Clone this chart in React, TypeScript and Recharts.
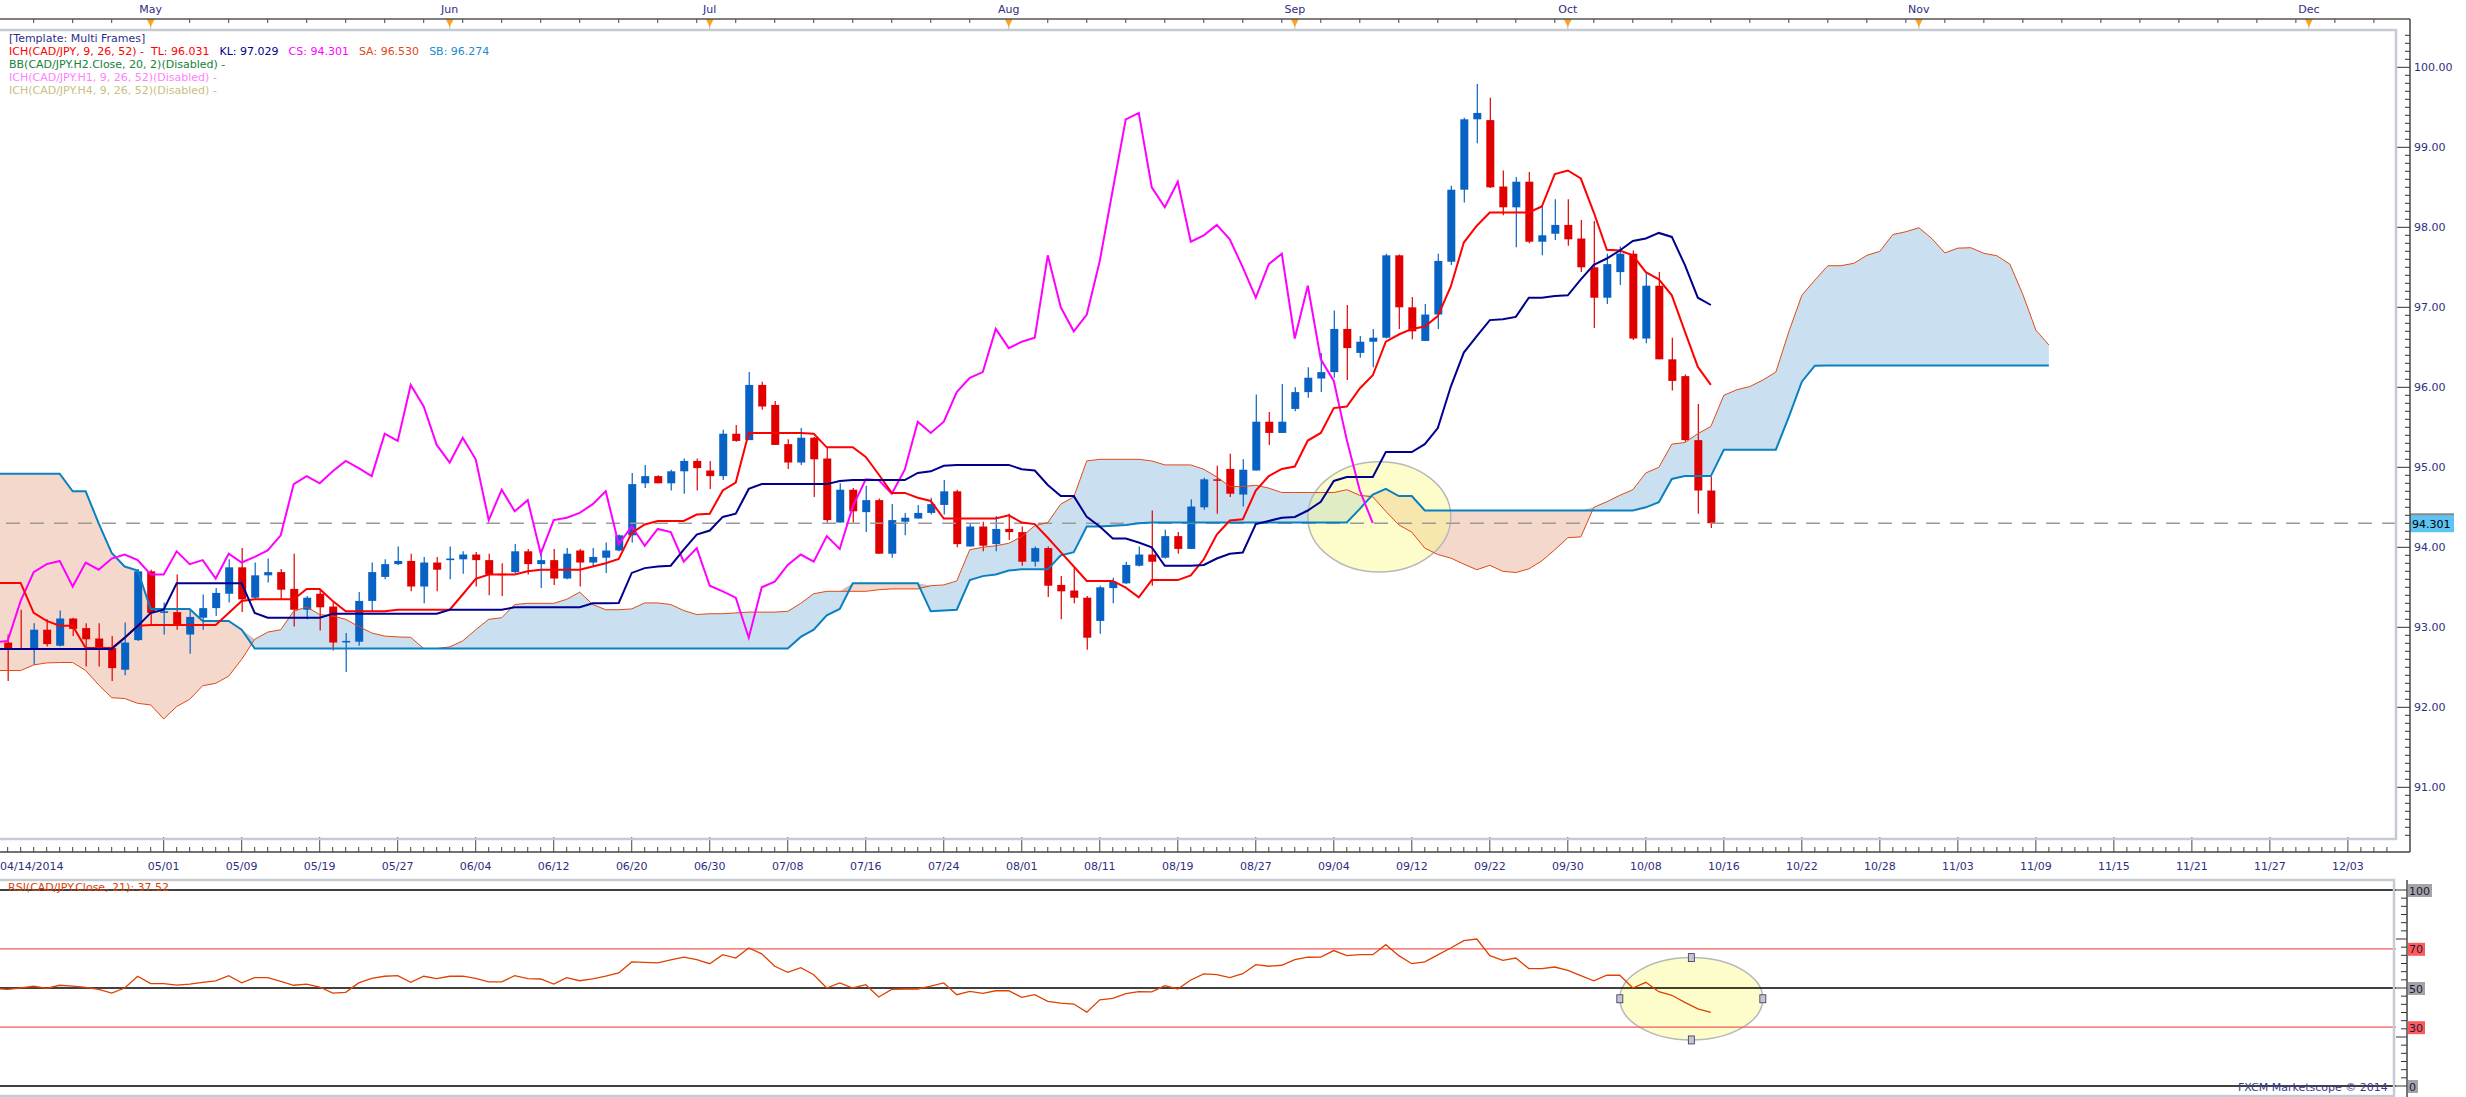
import React from 'react';
import { ComposedChart, Bar, Area, Line, XAxis, YAxis, ReferenceLine, ReferenceArea } from 'recharts';

// bar 0 = 04/14/2014, one bar per trading day; candles start at bar 1
const FIRST_BAR = 1;
const CHIKOU_SHIFT = 26;
const LAST_CLOSE = 94.301;

const opens = [
  92.81, 92.74, 92.72, 92.97, 92.77, 93.11, 92.99, 92.86, 92.74, 92.47,
  92.84, 93.70, 93.18, 93.19, 92.91, 93.12, 93.24, 93.42, 93.75, 93.37,
  93.65, 93.69, 93.48, 93.22, 93.42, 93.26, 92.82, 92.82, 93.33, 93.63,
  93.79, 93.83, 93.51, 93.81, 93.84, 93.85, 93.91, 93.84, 93.67, 93.69,
  93.95, 93.79, 93.84, 93.61, 93.96, 93.81, 93.87, 93.96, 94.15, 94.80,
  94.89, 94.80, 94.95, 95.08, 94.96, 94.89, 95.42, 95.34, 96.03, 95.78,
  95.29, 95.06, 95.37, 95.11, 94.31, 94.72, 94.44, 94.59, 93.92, 94.32,
  94.36, 94.43, 94.53, 94.70, 94.01, 94.26, 94.04, 94.23, 94.19, 93.82,
  93.99, 93.53, 93.46, 93.37, 93.08, 93.49, 93.55, 93.77, 93.91, 93.87,
  94.14, 93.98, 94.50, 94.85, 94.98, 94.66, 94.96, 95.57, 95.43, 95.73,
  95.94, 96.11, 96.19, 96.73, 96.43, 96.57, 96.62, 97.65, 97.00, 96.58,
  96.91, 97.57, 98.47, 99.35, 99.34, 98.51, 98.25, 98.57, 97.82, 97.92,
  98.03, 97.86, 97.50, 97.12, 97.44, 97.67, 96.61, 97.27, 96.35, 96.14,
  95.34, 94.71,
];
const highs = [
  92.91, 93.22, 93.05, 93.10, 93.21, 93.12, 93.05, 93.05, 92.89, 93.06,
  93.73, 93.72, 93.31, 93.66, 93.22, 93.41, 93.49, 93.85, 93.99, 93.81,
  93.86, 93.73, 93.92, 93.39, 93.48, 93.31, 92.93, 93.44, 93.81, 93.85,
  94.01, 93.92, 93.88, 93.88, 94.01, 93.95, 93.94, 93.92, 93.80, 94.04,
  93.98, 93.98, 93.98, 93.99, 93.98, 93.99, 94.06, 94.16, 94.93, 95.03,
  94.90, 94.97, 95.11, 95.11, 95.08, 95.47, 95.53, 96.19, 96.07, 95.83,
  95.35, 95.49, 95.38, 95.25, 94.80, 94.74, 94.77, 94.61, 94.54, 94.43,
  94.53, 94.62, 94.84, 94.72, 94.29, 94.32, 94.39, 94.42, 94.26, 94.01,
  94.01, 93.64, 93.74, 93.39, 93.52, 93.62, 93.82, 94.01, 94.46, 94.22,
  94.19, 94.60, 94.87, 95.02, 95.17, 95.10, 95.91, 95.69, 96.04, 96.00,
  96.25, 96.43, 96.96, 97.03, 96.64, 96.73, 97.67, 97.66, 97.13, 97.04,
  97.67, 98.52, 99.37, 99.79, 99.62, 98.71, 98.63, 98.69, 98.27, 98.35,
  98.35, 98.09, 98.08, 97.67, 97.76, 97.71, 97.44, 97.44, 96.62, 96.16,
  95.79, 94.88,
];
const lows = [
  92.33, 92.72, 92.53, 92.76, 92.76, 92.89, 92.51, 92.51, 92.33, 92.40,
  92.83, 93.02, 92.91, 92.97, 92.67, 92.97, 93.14, 93.31, 93.19, 93.35,
  93.56, 93.35, 93.01, 93.10, 92.96, 92.71, 92.44, 92.77, 93.20, 93.60,
  93.78, 93.45, 93.30, 93.45, 93.60, 93.67, 93.51, 93.40, 93.39, 93.68,
  93.66, 93.49, 93.53, 93.60, 93.51, 93.76, 93.68, 93.95, 94.06, 94.74,
  94.80, 94.71, 94.67, 94.71, 94.73, 94.84, 95.32, 95.34, 95.72, 95.28,
  94.98, 95.03, 94.63, 94.31, 94.31, 94.31, 94.19, 93.92, 93.87, 94.15,
  94.36, 94.41, 94.41, 94.00, 94.01, 93.95, 93.95, 94.09, 93.77, 93.76,
  93.38, 93.10, 93.30, 92.72, 92.92, 93.30, 93.54, 93.76, 93.52, 93.86,
  93.92, 93.98, 94.47, 94.42, 94.63, 94.51, 94.96, 95.28, 95.43, 95.70,
  95.87, 95.94, 96.12, 96.09, 96.37, 96.25, 96.61, 96.73, 96.60, 96.58,
  96.73, 97.53, 98.31, 99.05, 98.49, 98.15, 97.75, 97.80, 97.65, 97.84,
  97.77, 97.44, 96.74, 97.04, 97.28, 96.59, 96.55, 96.35, 95.96, 95.32,
  94.42, 94.24,
];
const closes = [
  92.74, 92.72, 92.97, 92.79, 93.11, 92.98, 92.85, 92.74, 92.49, 92.81,
  93.70, 93.18, 93.20, 93.03, 93.13, 93.24, 93.43, 93.75, 93.35, 93.65,
  93.69, 93.47, 93.22, 93.37, 93.25, 92.81, 92.83, 93.33, 93.69, 93.79,
  93.83, 93.51, 93.81, 93.72, 93.86, 93.91, 93.84, 93.66, 93.66, 93.95,
  93.79, 93.84, 93.61, 93.92, 93.81, 93.88, 93.96, 94.15, 94.79, 94.89,
  94.80, 94.95, 95.08, 94.99, 94.89, 95.42, 95.33, 96.03, 95.76, 95.28,
  95.06, 95.37, 95.10, 94.34, 94.72, 94.45, 94.59, 93.92, 94.34, 94.37,
  94.43, 94.54, 94.70, 94.04, 94.26, 94.02, 94.23, 94.19, 93.82, 93.99,
  93.52, 93.45, 93.37, 92.87, 93.50, 93.57, 93.78, 93.91, 93.82, 94.14,
  93.98, 94.51, 94.85, 94.84, 94.67, 94.97, 95.57, 95.43, 95.57, 95.94,
  96.12, 96.19, 96.73, 96.49, 96.57, 96.62, 97.65, 97.00, 96.70, 96.91,
  97.58, 98.47, 99.35, 99.43, 98.50, 98.25, 98.57, 97.82, 97.90, 98.03,
  97.85, 97.50, 97.12, 97.54, 97.67, 96.61, 97.27, 96.35, 96.08, 95.34,
  94.71, 94.301,
];

// Ichimoku lines, bar 0 onwards
const tenkan = [
  93.555, 93.555, 93.555, 93.18, 93.08, 93.02, 93.02, 92.74, 92.74, 92.74,
  92.87, 93.02, 93.03, 93.03, 93.03, 93.03, 93.03, 93.03, 93.18, 93.33,
  93.35, 93.35, 93.35, 93.35, 93.48, 93.48, 93.33, 93.20, 93.20, 93.20,
  93.20, 93.22, 93.22, 93.22, 93.22, 93.22, 93.41, 93.605, 93.66, 93.66,
  93.66, 93.70, 93.72, 93.72, 93.72, 93.72, 93.76, 93.80, 93.855, 94.18,
  94.285, 94.33, 94.33, 94.33, 94.41, 94.42, 94.71, 94.81, 95.43, 95.43,
  95.43, 95.43, 95.43, 95.42, 95.25, 95.25, 95.25, 95.13, 94.91, 94.68,
  94.68, 94.62, 94.58, 94.36, 94.36, 94.36, 94.36, 94.36, 94.40, 94.31,
  94.29, 94.12, 93.94, 93.76, 93.58, 93.58, 93.58, 93.495, 93.375, 93.59,
  93.59, 93.59, 93.65, 93.85, 94.16, 94.335, 94.35, 94.71, 94.89, 94.98,
  95.01, 95.335, 95.43, 95.74, 95.76, 95.985, 96.15, 96.57, 96.66, 96.73,
  96.76, 96.89, 97.26, 97.81, 98.02, 98.185, 98.185, 98.185, 98.185, 98.26,
  98.665, 98.71, 98.61, 98.185, 97.72, 97.71, 97.65, 97.44, 97.35, 97.15,
  96.70, 96.255, 96.031,
];
const kijun = [
  92.73, 92.73, 92.73, 92.73, 92.73, 92.73, 92.73, 92.73, 92.73, 92.73,
  92.87, 93.015, 93.18, 93.22, 93.55, 93.55, 93.55, 93.55, 93.55, 93.55,
  93.18, 93.12, 93.12, 93.12, 93.12, 93.12, 93.17, 93.17, 93.17, 93.17,
  93.17, 93.17, 93.17, 93.17, 93.17, 93.22, 93.22, 93.22, 93.22, 93.22,
  93.25, 93.25, 93.25, 93.25, 93.25, 93.25, 93.30, 93.30, 93.305, 93.68,
  93.74, 93.76, 93.77, 93.97, 94.16, 94.21, 94.38, 94.42, 94.73, 94.79,
  94.79, 94.79, 94.79, 94.79, 94.79, 94.83, 94.84, 94.84, 94.84, 94.84,
  94.84, 94.93, 94.95, 95.02, 95.03, 95.03, 95.03, 95.03, 95.03, 94.975,
  94.96, 94.78, 94.64, 94.64, 94.38, 94.26, 94.11, 94.11, 94.06, 94.00,
  93.77, 93.77, 93.77, 93.78, 93.86, 93.92, 93.935, 94.29, 94.33, 94.37,
  94.38, 94.46, 94.57, 94.83, 94.88, 94.88, 94.88, 95.19, 95.19, 95.19,
  95.29, 95.49, 96.01, 96.435, 96.64, 96.84, 96.85, 96.88, 97.12, 97.12,
  97.14, 97.15, 97.35, 97.53, 97.61, 97.71, 97.83, 97.86, 97.93, 97.88,
  97.53, 97.12, 97.029,
];
const spanA = [
  92.46, 92.46, 92.46, 92.53, 92.555, 92.56, 92.56, 92.46, 92.28, 92.12,
  92.11, 92.05, 92.03, 91.855, 92.01, 92.10, 92.27, 92.30, 92.39, 92.60,
  92.85, 92.94, 92.97, 93.20, 93.255, 93.16, 93.14, 93.10, 93.01, 92.93,
  92.89, 92.88, 92.875, 92.735, 92.735, 92.755, 92.83, 92.97, 93.10, 93.12,
  93.285, 93.30, 93.30, 93.30, 93.35, 93.44, 93.285, 93.22, 93.22, 93.23,
  93.305, 93.305, 93.285, 93.21, 93.16, 93.17, 93.17, 93.18, 93.19, 93.19,
  93.19, 93.20, 93.30, 93.42, 93.45, 93.45, 93.45, 93.45, 93.47, 93.48,
  93.48, 93.48, 93.52, 93.53, 93.58, 93.97, 94.00, 94.02, 94.05, 94.135,
  94.27, 94.31, 94.54, 94.63, 95.08, 95.10, 95.10, 95.10, 95.10, 95.08,
  95.03, 95.03, 95.03, 94.975, 94.88, 94.76, 94.76, 94.775, 94.74, 94.685,
  94.685, 94.685, 94.685, 94.685, 94.72, 94.65, 94.63, 94.45, 94.28, 94.19,
  93.99, 93.91, 93.865, 93.79, 93.72, 93.775, 93.70, 93.685, 93.73, 93.83,
  93.97, 94.12, 94.13, 94.50, 94.57, 94.65, 94.72, 94.93, 95.00, 95.29,
  95.31, 95.42, 95.51, 95.90, 95.97, 96.01, 96.09, 96.19, 96.695, 97.15,
  97.34, 97.52, 97.52, 97.55, 97.65, 97.70, 97.91, 97.945, 97.995, 97.86,
  97.68, 97.74, 97.745, 97.675, 97.645, 97.54, 97.16, 96.715, 96.53,
];
const spanB = [
  94.92, 94.92, 94.92, 94.92, 94.92, 94.92, 94.70, 94.70, 94.30, 93.93,
  93.76, 93.71, 93.23, 93.23, 93.23, 93.23, 93.08, 93.08, 93.08, 92.97,
  92.735, 92.735, 92.735, 92.735, 92.735, 92.735, 92.735, 92.735, 92.735, 92.735,
  92.735, 92.735, 92.735, 92.735, 92.735, 92.735, 92.735, 92.735, 92.735, 92.735,
  92.735, 92.735, 92.735, 92.735, 92.735, 92.735, 92.735, 92.735, 92.735, 92.735,
  92.735, 92.735, 92.735, 92.735, 92.735, 92.735, 92.735, 92.735, 92.735, 92.735,
  92.735, 92.735, 92.88, 92.97, 93.15, 93.23, 93.55, 93.55, 93.55, 93.55,
  93.55, 93.55, 93.20, 93.21, 93.22, 93.59, 93.64, 93.66, 93.71, 93.725,
  93.725, 93.725, 93.90, 93.94, 94.26, 94.26, 94.27, 94.28, 94.30, 94.31,
  94.31, 94.31, 94.31, 94.31, 94.31, 94.31, 94.31, 94.31, 94.31, 94.31,
  94.31, 94.31, 94.31, 94.31, 94.31, 94.48, 94.66, 94.73, 94.64, 94.64,
  94.46, 94.46, 94.46, 94.46, 94.46, 94.46, 94.46, 94.46, 94.46, 94.46,
  94.46, 94.46, 94.46, 94.46, 94.46, 94.46, 94.46, 94.50, 94.565, 94.855,
  94.89, 94.89, 94.89, 95.22, 95.22, 95.22, 95.22, 95.22, 95.63, 96.07,
  96.27, 96.274, 96.274, 96.274, 96.274, 96.274, 96.274, 96.274, 96.274, 96.274,
  96.274, 96.274, 96.274, 96.274, 96.274, 96.274, 96.274, 96.274, 96.274,
];
const rsi = [
  49.7, 49.3, 50.0, 50.9, 49.8, 51.4, 51.0, 50.3, 49.3, 47.4,
  50.0, 56.0, 52.2, 52.2, 51.5, 52.0, 52.9, 53.6, 56.3, 52.6,
  55.3, 55.3, 53.4, 51.4, 52.0, 50.5, 47.4, 47.8, 52.6, 54.9,
  56.0, 56.3, 52.9, 56.0, 54.8, 56.0, 56.1, 54.9, 53.1, 53.1,
  56.3, 54.8, 54.6, 52.0, 55.3, 53.7, 54.6, 56.0, 57.7, 63.3,
  63.1, 62.8, 64.3, 65.7, 64.5, 62.4, 67.0, 65.3, 70.4, 67.4,
  61.1, 58.0, 60.4, 56.8, 50.0, 52.6, 50.0, 51.7, 45.4, 49.3,
  49.5, 49.5, 50.9, 52.6, 46.6, 48.3, 47.3, 48.6, 48.6, 45.2,
  46.6, 43.2, 42.3, 41.8, 37.7, 44.0, 44.7, 47.1, 48.1, 48.0,
  51.2, 49.5, 54.1, 57.2, 56.8, 55.3, 57.3, 61.9, 61.1, 61.6,
  64.5, 65.7, 65.8, 69.1, 66.5, 67.0, 67.0, 72.1, 66.5, 62.4,
  63.3, 66.9, 70.4, 74.2, 75.0, 66.5, 64.1, 65.3, 59.9, 59.9,
  60.7, 59.0, 56.3, 53.7, 56.5, 56.5, 50.0, 52.9, 48.1, 46.3,
  42.7, 39.4, 37.52,
];

const dateTicks = [0, 13, 19, 25, 31, 37, 43, 49, 55, 61, 67, 73, 79, 85, 91, 97, 103, 109, 115, 121, 127, 133, 139, 145, 151, 157, 163, 169, 175, 181];
const dateLabels = ['04/14/2014', '05/01', '05/09', '05/19', '05/27', '06/04', '06/12', '06/20', '06/30', '07/08', '07/16', '07/24', '08/01', '08/11', '08/19', '08/27', '09/04', '09/12', '09/22', '09/30', '10/08', '10/16', '10/22', '10/28', '11/03', '11/09', '11/15', '11/21', '11/27', '12/03'];
const monthTicks = [12, 35, 55, 78, 100, 121, 148, 178];
const monthLabels = ['May', 'Jun', 'Jul', 'Aug', 'Sep', 'Oct', 'Nov', 'Dec'];
const priceLabels = [91, 92, 93, 94, 95, 96, 97, 98, 99, 100];
const rsiLevels = [100, 70, 50, 30, 0];
const rsiLevelLabels = ['100', '70', '50', '30', '0'];

// annotation ellipses (data coordinates)
const priceEllipse = { x1: 101.0, x2: 112.0, y1: 93.69, y2: 95.07 };
const rsiEllipse = { x1: 125.0, x2: 136.0, y1: 23.5, y2: 65.5 };

const X_MIN = 0.41;
const X_MAX = 184.7;
const Y_MIN = 90.354;
const Y_MAX = 100.454;

const FONT = "'DejaVu Sans', sans-serif";
const AXIS_TEXT = '#2e2e80';
const UP = '#0862c4';
const DOWN = '#e00000';

const rows = spanA.map((sa, i) => {
  const k = i - FIRST_BAR;
  const has = k >= 0 && k < closes.length;
  const cs = i + CHIKOU_SHIFT - FIRST_BAR;
  return {
    i,
    o: has ? opens[k] : null,
    h: has ? highs[k] : null,
    l: has ? lows[k] : null,
    c: has ? closes[k] : null,
    tl: i < tenkan.length ? tenkan[i] : null,
    kl: i < kijun.length ? kijun[i] : null,
    cs: cs < closes.length ? closes[cs] : null,
    sa,
    sb: spanB[i],
  };
});
const rsiRows = rsi.map((v, i) => ({ i, v }));

// axis tick positions
const barTicks = Array.from({ length: 185 }, (_, k) => k);
const topMinor = Array.from({ length: 61 }, (_, k) => 3 + k * 3).filter((t) => !monthTicks.includes(t));
const topTicks = [...topMinor, ...monthTicks];
const priceTicks = [...Array.from({ length: 101 }, (_, k) => Math.round((90.4 + k * 0.1) * 10) / 10), LAST_CLOSE];
const rsiGrid = Array.from({ length: 25 }, (_, k) => (k * 25) / 6);
const rsiTicks = [...rsiGrid, 30, 70];

const Candle = (props: any) => {
  const { x, y, width, height, payload } = props;
  if (!payload || payload.o == null) return null;
  const { o, h, l, c } = payload;
  const color = c >= o ? UP : DOWN;
  const py = (v: number) => y + ((h - v) / (h - l)) * height;
  const top = py(Math.max(o, c));
  const bot = py(Math.min(o, c));
  const cx = x + width / 2;
  return (
    <g>
      <line x1={cx} x2={cx} y1={y} y2={y + height} stroke={color} strokeWidth={1.2} />
      <rect x={x} y={top} width={width} height={Math.max(bot - top, 1.5)} fill={color} />
    </g>
  );
};

const Ellipse = (props: any) => {
  const { x, y, width, height } = props;
  return (
    <ellipse cx={x + width / 2} cy={y + height / 2} rx={width / 2} ry={height / 2}
      fill="#fafa8c" fillOpacity={0.45} stroke="#b8b8b8" strokeWidth={1.5} />
  );
};

const HandledEllipse = (props: any) => {
  const { x, y, width, height } = props;
  const cx = x + width / 2;
  const cy = y + height / 2;
  const pts = [[cx, y], [cx, y + height], [x, cy], [x + width, cy]];
  return (
    <g>
      <ellipse cx={cx} cy={cy} rx={width / 2} ry={height / 2}
        fill="#fafa8c" fillOpacity={0.45} stroke="#b8b8b8" strokeWidth={1.5} />
      {pts.map(([px, py], k) => (
        <rect key={k} x={px - 3} y={py - 4} width={6} height={8} fill="#c4c6cc" stroke="#30306a" strokeWidth={0.8} />
      ))}
    </g>
  );
};

const DateTick = (props: any) => {
  const { x, y, payload } = props;
  const k = dateTicks.indexOf(payload.value);
  if (k < 0) return <line x1={x} x2={x} y1={y + 8} y2={y + 13} stroke="#444" />;
  return (
    <g>
      <line x1={x} x2={x} y1={y - 2} y2={y + 13} stroke="#444" />
      <text x={k === 0 ? 0 : x} y={y + 27} textAnchor={k === 0 ? 'start' : 'middle'} dominantBaseline="central"
        fontFamily={FONT} fontSize={11} fill={AXIS_TEXT}>{dateLabels[k]}</text>
    </g>
  );
};

const MonthTick = (props: any) => {
  const { x, y, payload } = props;
  const k = monthTicks.indexOf(payload.value);
  if (k < 0) return <line x1={x} x2={x} y1={y - 12} y2={y - 8} stroke="#444" />;
  return (
    <g>
      <text x={x} y={y - 22} textAnchor="middle" dominantBaseline="central" fontFamily={FONT} fontSize={11} fill={AXIS_TEXT}>
        {monthLabels[k]}
      </text>
      <line x1={x} x2={x} y1={y - 12} y2={y} stroke="#b8b8b8" />
      <path d={`M${x - 4},${y - 12} L${x + 4},${y - 12} L${x},${y - 4} Z`} fill="#ffa21f" />
    </g>
  );
};

const PriceTick = (props: any) => {
  const { x, y, payload } = props;
  const v = payload.value;
  if (v === LAST_CLOSE) {
    return (
      <g>
        <rect x={x + 14} y={y - 9} width={44} height={18} fill="#5cc3f2" />
        <line x1={x + 14} x2={x + 58} y1={y - 9} y2={y - 9} stroke="#8a8a8a" strokeWidth={2} />
        <text x={x + 16} y={y + 1} dominantBaseline="central" fontFamily={FONT} fontSize={11} fill="#000">
          {v.toFixed(3)}
        </text>
      </g>
    );
  }
  const major = priceLabels.includes(v);
  return (
    <g>
      <line x1={major ? x + 1 : x + 9} x2={x + 14} y1={y} y2={y} stroke="#333" />
      {major && (
        <text x={x + 18} y={y} dominantBaseline="central" fontFamily={FONT} fontSize={11} fill={AXIS_TEXT}>
          {v.toFixed(2)}
        </text>
      )}
    </g>
  );
};

const RsiTick = (props: any) => {
  const { x, y, payload } = props;
  const v = payload.value;
  const k = rsiLevels.indexOf(v);
  const onGrid = rsiGrid.some((g) => Math.abs(g - v) < 1e-6);
  const major = onGrid && Math.abs(v % 25) < 1e-6;
  const label = k >= 0 ? rsiLevelLabels[k] : null;
  const red = v === 70 || v === 30;
  return (
    <g>
      {onGrid && <line x1={major ? x : x + 5} x2={x + 11} y1={y} y2={y} stroke="#333" />}
      {label && (
        <g>
          <rect x={x + 12} y={y - 6} width={label.length * 7 + 3} height={13} fill={red ? '#ff5a5a' : '#a4a4a4'} />
          <text x={x + 13} y={y + 1} dominantBaseline="central" fontFamily={FONT} fontSize={11} fill="#1a1a40">{label}</text>
        </g>
      )}
    </g>
  );
};

const legendLine: React.CSSProperties = { height: 13, whiteSpace: 'pre' };

export default function App() {
  return (
    <div style={{ position: 'relative', width: 2466, height: 1097, background: '#fff', overflow: 'hidden', fontFamily: FONT }}>
      <style>{'body{margin:0;background:#fff}'}</style>

      <div style={{ position: 'absolute', left: 0, top: 0 }}>
        <ComposedChart width={2466} height={880} data={rows} margin={{ top: 0, right: 0, bottom: 0, left: 0 }}>
          <XAxis xAxisId="b" dataKey="i" type="number" domain={[X_MIN, X_MAX]} allowDataOverflow ticks={barTicks}
            interval={0} height={41} tickSize={0} tickMargin={0} tickLine={false} axisLine={false} tick={DateTick} />
          <XAxis xAxisId="t" orientation="top" dataKey="i" type="number" domain={[X_MIN, X_MAX]} allowDataOverflow ticks={topTicks}
            interval={0} height={31} tickSize={0} tickMargin={0} tickLine={false} axisLine={false} tick={MonthTick} />
          <YAxis yAxisId="p" orientation="right" type="number" domain={[Y_MIN, Y_MAX]} allowDataOverflow ticks={priceTicks}
            interval={0} width={70} tickSize={0} tickMargin={0} tickLine={false} axisLine={false} tick={PriceTick} />

          <ReferenceLine xAxisId="b" yAxisId="p" y={LAST_CLOSE} stroke="#9a9a9a" strokeWidth={1.5} strokeDasharray="14 10" />

          <Bar xAxisId="b" yAxisId="p" dataKey={(d: any) => (d.h == null ? null : [d.l, d.h])} barSize={8}
            shape={Candle} isAnimationActive={false} />

          <Area xAxisId="b" yAxisId="p" type="linear" dataKey={(d: any) => [d.sb, Math.max(d.sa, d.sb)]}
            stroke="none" fill="#1a79be" fillOpacity={0.23} isAnimationActive={false} />
          <Area xAxisId="b" yAxisId="p" type="linear" dataKey={(d: any) => [d.sa, Math.max(d.sa, d.sb)]}
            stroke="none" fill="#d55723" fillOpacity={0.23} isAnimationActive={false} />

          <ReferenceArea xAxisId="b" yAxisId="p" x1={priceEllipse.x1} x2={priceEllipse.x2} y1={priceEllipse.y1} y2={priceEllipse.y2}
            shape={Ellipse} />

          <Line xAxisId="b" yAxisId="p" type="linear" dataKey="sa" stroke="#e04a14" strokeWidth={1} dot={false} isAnimationActive={false} />
          <Line xAxisId="b" yAxisId="p" type="linear" dataKey="sb" stroke="#0a80c0" strokeWidth={2} dot={false} isAnimationActive={false} />
          <Line xAxisId="b" yAxisId="p" type="linear" dataKey="cs" stroke="#ff00ff" strokeWidth={2} dot={false} isAnimationActive={false} />
          <Line xAxisId="b" yAxisId="p" type="linear" dataKey="tl" stroke="#ff0000" strokeWidth={2} dot={false} isAnimationActive={false} />
          <Line xAxisId="b" yAxisId="p" type="linear" dataKey="kl" stroke="#00008e" strokeWidth={2} dot={false} isAnimationActive={false} />
        </ComposedChart>
      </div>

      <div style={{ position: 'absolute', left: 0, top: 880 }}>
        <ComposedChart width={2466} height={217} data={rsiRows} margin={{ top: 10, right: 0, bottom: 11, left: 0 }}>
          <XAxis dataKey="i" type="number" domain={[X_MIN, X_MAX]} allowDataOverflow hide />
          <YAxis orientation="right" type="number" domain={[0, 100]} ticks={rsiTicks} interval={0} width={70}
            tickSize={0} tickMargin={0} tickLine={false} axisLine={false} tick={RsiTick} />
          <ReferenceLine y={100} stroke="#000" strokeWidth={1.3} />
          <ReferenceLine y={70} stroke="#f05a5a" strokeWidth={1.2} />
          <ReferenceLine y={50} stroke="#000" strokeWidth={1.3} />
          <ReferenceLine y={30} stroke="#f05a5a" strokeWidth={1.2} />
          <ReferenceLine y={0} stroke="#000" strokeWidth={1.3} />
          <ReferenceArea x1={rsiEllipse.x1} x2={rsiEllipse.x2} y1={rsiEllipse.y1} y2={rsiEllipse.y2} shape={HandledEllipse} />
          <Line type="linear" dataKey="v" stroke="#e04000" strokeWidth={1.3} dot={false} isAnimationActive={false} />
        </ComposedChart>
      </div>

      {/* frames and axis rules */}
      <svg width={2466} height={1097} style={{ position: 'absolute', left: 0, top: 0, pointerEvents: 'none' }}>
        <line x1={0} x2={2410} y1={19} y2={19} stroke="#555" strokeWidth={1.5} />
        <rect x={-2} y={30} width={2398} height={809} fill="none" stroke="#c5cbd2" strokeWidth={2.5} />
        <line x1={2410} x2={2410} y1={19} y2={852} stroke="#444" strokeWidth={1.5} />
        <line x1={0} x2={2410} y1={852} y2={852} stroke="#444" strokeWidth={1.5} />
        <rect x={-2} y={880} width={2396} height={216} fill="none" stroke="#c5cbd2" strokeWidth={2.5} />
        <line x1={2407} x2={2407} y1={880} y2={1097} stroke="#444" strokeWidth={1.5} />
      </svg>

      <div style={{ position: 'absolute', left: 9, top: 32, fontSize: 11, lineHeight: '13px' }}>
        <div style={{ ...legendLine, color: '#2e2e8a' }}>[Template: Multi Frames]</div>
        <div style={legendLine}>
          <span style={{ color: '#ff0000' }}>ICH(CAD/JPY, 9, 26, 52) -  TL: 96.031</span>
          <span style={{ color: '#00008e', marginLeft: 10 }}>KL: 97.029</span>
          <span style={{ color: '#ff00ff', marginLeft: 10 }}>CS: 94.301</span>
          <span style={{ color: '#e04a14', marginLeft: 10 }}>SA: 96.530</span>
          <span style={{ color: '#1a8ccc', marginLeft: 10 }}>SB: 96.274</span>
        </div>
        <div style={{ ...legendLine, color: '#16803c' }}>BB(CAD/JPY.H2.Close, 20, 2)(Disabled) -</div>
        <div style={{ ...legendLine, color: '#ff80ff' }}>ICH(CAD/JPY.H1, 9, 26, 52)(Disabled) -</div>
        <div style={{ ...legendLine, color: '#c8c080' }}>ICH(CAD/JPY.H4, 9, 26, 52)(Disabled) -</div>
      </div>

      <div style={{ position: 'absolute', left: 8, top: 881, fontSize: 11, color: '#e04000', whiteSpace: 'pre' }}>
        RSI(CAD/JPY.Close, 21): 37.52
      </div>
      <div style={{ position: 'absolute', left: 2238, top: 1081, fontSize: 11, color: '#3a3a8a', whiteSpace: 'pre' }}>
        FXCM Marketscope © 2014
      </div>
    </div>
  );
}
